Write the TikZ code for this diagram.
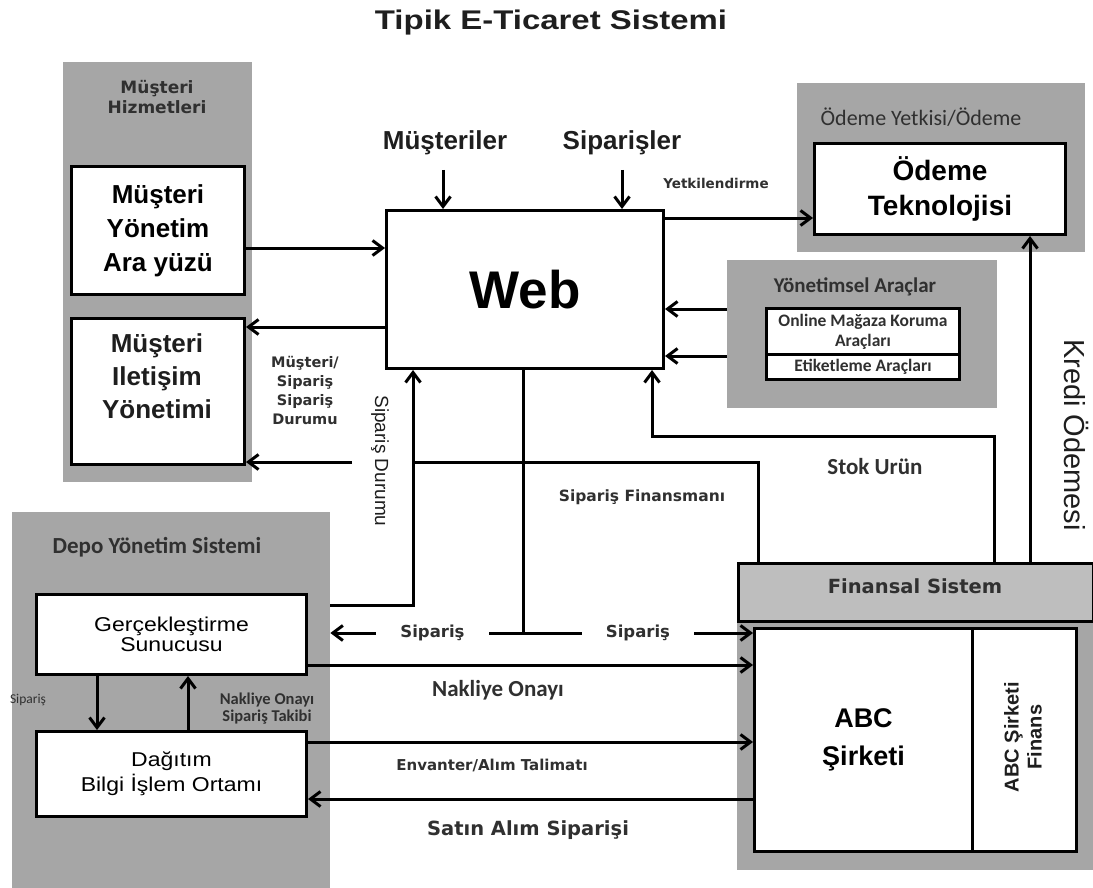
\documentclass[tikz,border=0pt]{standalone}
\usepackage{fontspec}
\setmainfont{Liberation Sans}
\newfontfamily\carlito{Carlito}
\newfontfamily\dejavu{DejaVu Sans}
\newfontfamily\widesans{Liberation Sans}[FakeStretch=1.15]
\usetikzlibrary{arrows.meta}
\definecolor{panelgray}{HTML}{A6A6A6}
\definecolor{bargray}{HTML}{BEBEBE}
\definecolor{ink}{HTML}{1E1E1E}
\definecolor{headink}{HTML}{303030}
\newcommand\fs[2]{\fontsize{#1}{#2}\selectfont}
\tikzset{
  panel/.style={fill=panelgray, draw=none, anchor=north west, inner sep=0pt},
  box/.style={fill=white, draw=black, line width=3pt, anchor=north west, inner sep=0pt, align=center},
  conn/.style={line width=3pt, draw=black},
  arr/.style={conn, -{Straight Barb[length=10pt,width=15pt]}},
  lbl/.style={inner sep=0pt, align=center, text=ink},
  head/.style={inner sep=0pt, align=center, text=headink},
  gaplbl/.style={fill=white, inner xsep=24pt, inner ysep=3pt, text=headink, font=\dejavu\bfseries\fs{16.5}{18}},
}
\begin{document}
\begin{tikzpicture}[x=1pt, y=-1pt]
\useasboundingbox (0,0) rectangle (1093,888);
\fill[white] (0,0) rectangle (1093,888);

% title
\node[lbl, font=\bfseries\fs{27}{27}] (title) at (551,23) {\scalebox{1.22}[1]{Tipik E-Ticaret Sistemi}};

% grey group panels
\node[panel, minimum width=189pt, minimum height=420pt] (pms) at (63,62) {};
\node[panel, minimum width=288pt, minimum height=169pt] (pode) at (797,83) {};
\node[panel, minimum width=270pt, minimum height=148pt] (pyon) at (727,260) {};
\node[panel, minimum width=318pt, minimum height=376pt] (pdepo) at (12,512) {};
\node[panel, minimum width=356pt, minimum height=250pt] (pabc) at (737,620) {};

% panel headings
\node[head, font=\dejavu\bfseries\fs{17}{20}] (pms-t) at (157,97) {Müşteri\\Hizmetleri};
\node[head, font=\carlito\fs{22}{22}] (pode-t) at (921,117) {Ödeme Yetkisi/Ödeme};
\node[head, font=\carlito\bfseries\fs{21}{21}] (pyon-t) at (855,287) {Yönetimsel Araçlar};
\node[head, font=\carlito\bfseries\fs{23}{23}] (pdepo-t) at (157,547) {Depo Yönetim Sistemi};

% boxes
\node[box, minimum width=173pt, minimum height=128pt, font=\bfseries\fs{26}{34}] (mya) at (70,165) {Müşteri\\Yönetim\\Ara yüzü};
\node[box, minimum width=173pt, minimum height=146pt] (mil) at (70,317) {};
\node[lbl, font=\bfseries\fs{26}{33}] (mil-t) at (157,376) {Müşteri\\Iletişim\\Yönetimi};
\node[box, minimum width=277pt, minimum height=158pt, font=\bfseries\fs{53}{53}] (web) at (385,209) {Web};
\node[box, minimum width=251pt, minimum height=91pt, font=\bfseries\fs{28}{35}] (ode) at (813,142) {Ödeme\\Teknolojisi};
\node[box, minimum width=193pt, minimum height=46pt, text=headink, font=\carlito\bfseries\fs{17.5}{20}] (onl) at (765,307) {Online Mağaza Koruma\\Araçları};
\node[box, minimum width=193pt, minimum height=25pt, text=headink, font=\carlito\bfseries\fs{17.5}{20}] (etk) at (765,353) {Etiketleme Araçları};
\node[box, minimum width=270pt, minimum height=80pt, font=\widesans\fs{20}{20}] (ger) at (35,593) {Gerçekleştirme\\Sunucusu};
\node[box, minimum width=270pt, minimum height=85pt, font=\widesans\fs{20}{25}] (dag) at (35,730) {Dağıtım\\Bilgi İşlem Ortamı};
\node[box, fill=bargray, minimum width=355pt, minimum height=58pt] (fin) at (737,562) {};
\node[lbl, text=headink, font=\dejavu\bfseries\fs{19.5}{20}] (fin-t) at (915,586) {Finansal Sistem};
\node[box, minimum width=218pt, minimum height=223pt, font=\bfseries\fs{27}{38}] (abc) at (753,627) {ABC\\Şirketi};
\node[box, minimum width=104pt, minimum height=223pt] (abcf) at (971,627) {};
\node[lbl, rotate=90, font=\bfseries\fs{20}{23}] (abcf-t) at (1023,737) {ABC Şirketi\\Finans};

% inputs at the top of the web box
\node[lbl, font=\bfseries\fs{26}{26}] (musl) at (445,143) {Müşteriler};
\node[lbl, font=\bfseries\fs{26}{26}] (sipl) at (622,143) {Siparişler};
\coordinate (musin) at (443,170);
\coordinate (sipin) at (622,170);
\draw[arr] (musin) -- (web.north -| musin);
\draw[arr] (sipin) -- (web.north -| sipin);

% customer services <-> web
\coordinate (ym1) at (0,248);
\coordinate (ym2) at (0,327);
\draw[arr] (mya.east |- ym1) -- (web.west |- ym1);
\draw[arr] (web.west |- ym2) -- (mil.east |- ym2);
\node[lbl, text=headink, font=\dejavu\bfseries\fs{14.5}{19}] (msd) at (305,390) {Müşteri/\\Sipariş\\Sipariş\\Durumu};

% authorisation
\coordinate (ya0) at (0,218);
\draw[arr] (web.east |- ya0) -- (ode.west |- ya0);
\node[lbl, text=headink, font=\dejavu\bfseries\fs{13.5}{14}] (yetk) at (716,183) {Yetkilendirme};

% management tools -> web
\coordinate (ya1) at (0,309);
\coordinate (ya2) at (0,356);
\draw[arr] (pyon.west |- ya1) -- (web.east |- ya1);
\draw[arr] (pyon.west |- ya2) -- (web.east |- ya2);

% order status from fulfilment server up to web
\coordinate (sdS) at (330,605);
\coordinate (xsd) at (413,0);
\draw[arr] (sdS) -| (web.south -| xsd);
\node[lbl, rotate=-90, font=\fs{19}{19}] (sdur) at (380,461) {Sipariş Durumu};

% order financing from the financial system to customer communication
\coordinate (xsf) at (758,0);
\coordinate (sfR) at (413,462);
\coordinate (sfL) at (352,462);
\draw[conn] (fin.north -| xsf) |- (sfR);
\draw[arr] (sfL) -- (mil.east |- sfL);
\node[lbl, text=headink, font=\dejavu\bfseries\fs{15.5}{16}] (sfin) at (642,497) {Sipariş Finansmanı};

% stock products
\coordinate (xstok) at (994,0);
\coordinate (stk) at (652,436);
\draw[arr] (fin.north -| xstok) |- (stk) -- (web.south -| stk);
\node[lbl, text=headink, font=\carlito\bfseries\fs{23}{23}] (stok) at (875,467) {Stok Urün};

% credit payment
\coordinate (xkr) at (1030,0);
\draw[arr] (fin.north -| xkr) -- (ode.south -| xkr);
\node[lbl, rotate=-90, font=\fs{29}{29}] (kredi) at (1076,435) {Kredi Ödemesi};

% orders split from the web box
\coordinate (tj) at (523,633);
\draw[conn] (web.south -| tj) -- (tj);
\draw[arr] (tj) -- node[gaplbl, pos=0.47] (sipL) {Sipariş} (pdepo.east |- tj);
\draw[arr] (tj) -- node[gaplbl, pos=0.5] (sipR) {Sipariş} (abc.west |- tj);

% warehouse <-> company
\coordinate (yn) at (0,665);
\coordinate (ye) at (0,742);
\coordinate (ys) at (0,799);
\draw[arr] (ger.east |- yn) -- (abc.west |- yn);
\node[lbl, text=headink, font=\carlito\bfseries\fs{23}{23}] (nak) at (498,690) {Nakliye Onayı};
\draw[arr] (dag.east |- ye) -- (abc.west |- ye);
\node[lbl, text=headink, font=\dejavu\bfseries\fs{15}{16}] (env) at (492,765) {Envanter/Alım Talimatı};
\draw[arr] (abc.west |- ys) -- (dag.east |- ys);
\node[lbl, text=headink, font=\dejavu\bfseries\fs{19.5}{20}] (sat) at (528,830) {Satın Alım Siparişi};

% inside the warehouse system
\coordinate (xd) at (97,0);
\coordinate (xu) at (188,0);
\draw[arr] (ger.south -| xd) -- (dag.north -| xd);
\draw[arr] (dag.north -| xu) -- (ger.south -| xu);
\node[lbl, text=headink, font=\carlito\fs{13.5}{14}] (sipd) at (28,700) {Sipariş};
\node[lbl, text=headink, font=\carlito\bfseries\fs{16.5}{17}] (nakt) at (267,709) {Nakliye Onayı\\Sipariş Takibi};
\end{tikzpicture}
\end{document}
